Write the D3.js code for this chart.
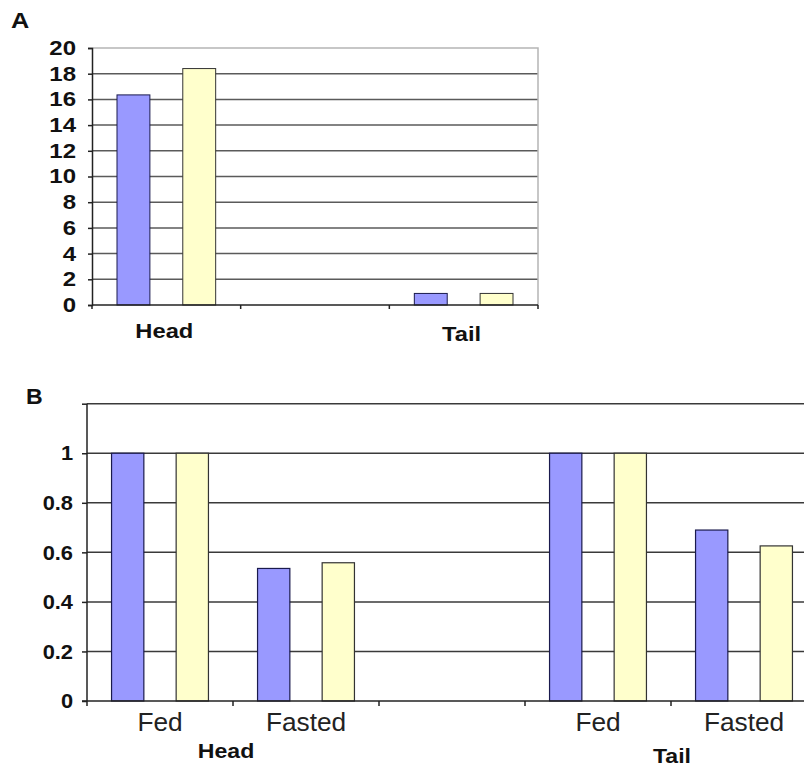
<!DOCTYPE html>
<html>
<head>
<meta charset="utf-8">
<script src="https://cdn.jsdelivr.net/npm/d3@7"></script>
<style>
  body { margin: 0; background: #fff; }
  svg { display: block; font-family: "Liberation Sans", Arial, sans-serif; }
</style>
</head>
<body>
<div id="chart"></div>
<script>
// Panel A
const aCategories = ["Head", "", "Tail"];
const aSeries1 = [16.35, null, 0.9];
const aSeries2 = [18.4, null, 0.9];
const aTicks = [0, 2, 4, 6, 8, 10, 12, 14, 16, 18, 20];

// Panel B
const bCategories = ["Fed", "Fasted", "", "Fed", "Fasted"];
const bGroups = ["Head", "Tail"];
const bGroupSpans = [[0, 1], [3, 4]];
const bSeries1 = [1, 0.535, null, 1, 0.69];
const bSeries2 = [1, 0.558, null, 1, 0.626];
const bTickValues = [0, 0.2, 0.4, 0.6, 0.8, 1];
const bGridValues = [0.2, 0.4, 0.6, 0.8, 1, 1.2];

const fills = ["#9999ff", "#ffffcc"];
const strokes = ["#1a1a4d", "#333333"];

// the original figure is a little wider than tall, so text gets a horizontal stretch
function placeText(sel, x, y, k) {
  sel.attr("transform", (d, i) => {
    let px = typeof x === "function" ? x(d, i) : x;
    let py = typeof y === "function" ? y(d, i) : y;
    return `translate(${px},${py}) scale(${k},1)`;
  });
}

let svg = d3.select("#chart")
  .append("svg")
  .attr("width", 804)
  .attr("height", 769);

/* ---------- Panel A ---------- */
let xA = d3.scaleBand().domain(d3.range(aCategories.length)).range([92, 538]);
let xA1 = d3.scaleBand().domain([0, 1]).range([0, xA.bandwidth()])
  .paddingInner(0.5).paddingOuter(0.38);
let yA = d3.scaleLinear().domain([0, 20]).range([305, 48]);

let gA = svg.append("g");

// gridlines
gA.selectAll(".gridA")
  .data(aTicks.filter(d => d > 0 && d < 20))
  .enter()
  .append("line")
  .attr("x1", 92).attr("x2", 538)
  .attr("y1", d => yA(d)).attr("y2", d => yA(d))
  .attr("stroke", "#5a5a5a")
  .attr("stroke-width", 1.5);

// plot border (top + right)
gA.append("path")
  .attr("d", `M92,${yA(20)}H538V${yA(0)}`)
  .attr("fill", "none")
  .attr("stroke", "#b5b5b5")
  .attr("stroke-width", 1.5);

// bars
[aSeries1, aSeries2].forEach((series, s) => {
  gA.selectAll(".barA" + s)
    .data(series.map((v, i) => ({ v, i })).filter(d => d.v != null))
    .enter()
    .append("rect")
    .attr("x", d => xA(d.i) + xA1(s))
    .attr("width", xA1.bandwidth())
    .attr("y", d => yA(d.v))
    .attr("height", d => yA(0) - yA(d.v))
    .attr("fill", fills[s])
    .attr("stroke", strokes[s])
    .attr("stroke-width", 1);
});

// y axis
let yAxisA = d3.axisLeft(yA).tickValues(aTicks).tickSize(4).tickPadding(12);
gA.append("g")
  .attr("transform", "translate(92,0)")
  .call(yAxisA)
  .call(g => g.select(".domain").attr("stroke", "#222").attr("stroke-width", 1.5))
  .call(g => g.selectAll(".tick line").attr("stroke", "#222").attr("stroke-width", 1.5))
  .call(g => g.selectAll(".tick text")
    .attr("x", -16 / 1.2)
    .attr("transform", "scale(1.2,1)")
    .attr("font-size", 20).attr("font-weight", "bold").attr("fill", "#111")
    .attr("font-family", "'Liberation Sans', Arial, sans-serif"));

// x axis
gA.append("line")
  .attr("x1", 92).attr("x2", 538)
  .attr("y1", yA(0)).attr("y2", yA(0))
  .attr("stroke", "#222").attr("stroke-width", 1.5);
gA.selectAll(".xtickA")
  .data(d3.range(aCategories.length + 1))
  .enter()
  .append("line")
  .attr("x1", i => i < aCategories.length ? xA(i) : 538)
  .attr("x2", i => i < aCategories.length ? xA(i) : 538)
  .attr("y1", yA(0)).attr("y2", yA(0) + 4)
  .attr("stroke", "#222").attr("stroke-width", 1.5);

gA.selectAll(".xlabA")
  .data(aCategories.map((c, i) => ({ c, i })).filter(d => d.c))
  .enter()
  .append("text")
  .attr("text-anchor", "middle")
  .attr("font-size", 21)
  .attr("font-weight", "bold")
  .attr("fill", "#111")
  .text(d => d.c)
  .call(placeText, d => xA(d.i) + xA.bandwidth() / 2 - 2, d => d.c === "Tail" ? 341 : 338, 1.13);

svg.append("text")
  .attr("font-size", 22).attr("font-weight", "bold").attr("fill", "#111")
  .text("A")
  .call(placeText, 11, 28, 1.15);

/* ---------- Panel B ---------- */
let xB = d3.scaleBand().domain(d3.range(bCategories.length)).range([87, 817]);
let xB1 = d3.scaleBand().domain([0, 1]).range([0, xB.bandwidth()])
  .paddingInner(0.5).paddingOuter(0.38);
let yB = d3.scaleLinear().domain([0, 1.2]).range([701, 403.7]);

let gB = svg.append("g");

gB.selectAll(".gridB")
  .data(bGridValues)
  .enter()
  .append("line")
  .attr("x1", 87).attr("x2", 817)
  .attr("y1", d => yB(d)).attr("y2", d => yB(d))
  .attr("stroke", "#3a3a3a")
  .attr("stroke-width", 1.5);

[bSeries1, bSeries2].forEach((series, s) => {
  gB.selectAll(".barB" + s)
    .data(series.map((v, i) => ({ v, i })).filter(d => d.v != null))
    .enter()
    .append("rect")
    .attr("x", d => xB(d.i) + xB1(s))
    .attr("width", xB1.bandwidth())
    .attr("y", d => yB(d.v))
    .attr("height", d => yB(0) - yB(d.v))
    .attr("fill", fills[s])
    .attr("stroke", strokes[s])
    .attr("stroke-width", 1.2);
});

let yAxisB = d3.axisLeft(yB).tickValues(bGridValues.concat([0])).tickSize(5).tickPadding(14)
  .tickFormat(d => bTickValues.some(t => Math.abs(t - d) < 1e-9) ? d3.format("")(+d.toFixed(1)) : "");
gB.append("g")
  .attr("transform", "translate(87,0)")
  .call(yAxisB)
  .call(g => g.select(".domain").attr("d", `M0,${yB(1.2)}V${yB(0)}`)
    .attr("stroke", "#222").attr("stroke-width", 1.5))
  .call(g => g.selectAll(".tick line").attr("stroke", "#222").attr("stroke-width", 1.5))
  .call(g => g.selectAll(".tick text")
    .attr("x", -14 / 1.04)
    .attr("transform", "scale(1.04,1)")
    .attr("font-size", 21).attr("font-weight", "bold").attr("fill", "#111")
    .attr("font-family", "'Liberation Sans', Arial, sans-serif"));

gB.append("line")
  .attr("x1", 82).attr("x2", 817)
  .attr("y1", yB(0)).attr("y2", yB(0))
  .attr("stroke", "#222").attr("stroke-width", 1.5);
gB.selectAll(".xtickB")
  .data(d3.range(bCategories.length + 1))
  .enter()
  .append("line")
  .attr("x1", i => i < bCategories.length ? xB(i) : 817)
  .attr("x2", i => i < bCategories.length ? xB(i) : 817)
  .attr("y1", yB(0)).attr("y2", yB(0) + 5)
  .attr("stroke", "#222").attr("stroke-width", 1.5);

gB.selectAll(".xlabB")
  .data(bCategories.map((c, i) => ({ c, i })).filter(d => d.c))
  .enter()
  .append("text")
  .attr("text-anchor", "middle")
  .attr("font-size", 25)
  .attr("fill", "#222")
  .text(d => d.c)
  .call(placeText, d => xB(d.i) + xB.bandwidth() / 2, 731, 1.05);

gB.selectAll(".grpB")
  .data(bGroups.map((g, k) => ({ g, k })))
  .enter()
  .append("text")
  .attr("text-anchor", "middle")
  .attr("font-size", 21)
  .attr("font-weight", "bold")
  .attr("fill", "#111")
  .text(d => d.g)
  .call(placeText,
    d => (xB(bGroupSpans[d.k][0]) + xB(bGroupSpans[d.k][1]) + xB.bandwidth()) / 2 + (d.k === 0 ? -7 : 1),
    d => d.k === 0 ? 758 : 763, 1.1);

svg.append("text")
  .attr("font-size", 22).attr("font-weight", "bold").attr("fill", "#111")
  .text("B")
  .call(placeText, 26, 404, 1.05);
</script>
</body>
</html>
